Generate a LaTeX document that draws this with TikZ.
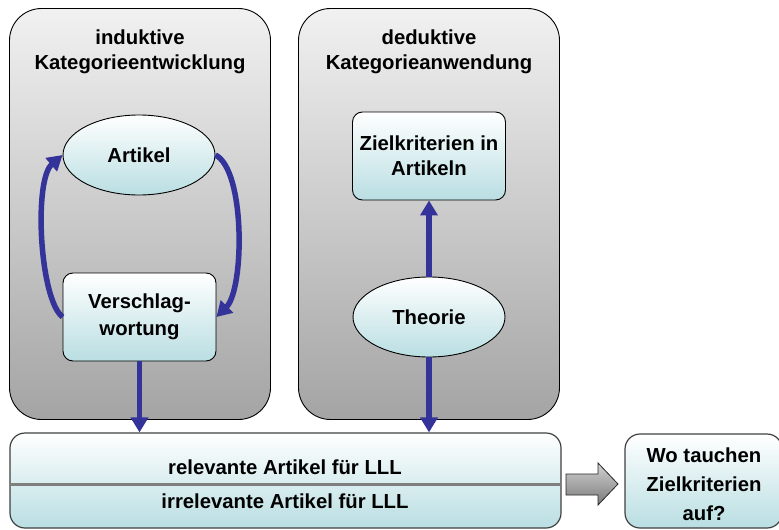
\documentclass[tikz,border=0pt]{standalone}
\usepackage{fontspec}
\setmainfont{Liberation Sans}
\usetikzlibrary{shapes.geometric,arrows.meta}

\definecolor{flowblue}{HTML}{333399}
\definecolor{paneltop}{HTML}{F1F1F1}
\definecolor{panelbot}{HTML}{A4A4A4}
\definecolor{cellbot}{HTML}{B9DEE2}
\definecolor{rulegray}{HTML}{7F7F7F}

\tikzset{
  lbl/.style={font=\bfseries\fontsize{20.3}{25}\selectfont, align=center, inner sep=0pt},
  panel/.style={draw=black, line width=0.9pt, rounded corners=32pt,
    top color=paneltop, bottom color=panelbot,
    minimum width=261pt, minimum height=411pt, inner sep=0pt},
  cellbox/.style={draw=black, line width=0.9pt, rounded corners=10pt,
    top color=white, bottom color=cellbot,
    minimum width=153pt, minimum height=88pt, inner sep=0pt, lbl},
  cellellipse/.style={ellipse, draw=black, line width=0.9pt,
    top color=white, bottom color=cellbot,
    minimum width=152pt, minimum height=80pt, inner sep=0pt, lbl},
  resultbox/.style={draw=black!75, line width=1.2pt, rounded corners=15pt,
    top color=white, bottom color=cellbot, inner sep=0pt},
  flow/.style={draw=flowblue, line width=5.5pt,
    -{Triangle[width=17pt,length=15pt]}},
  bigarrow/.style={draw=black!85, line width=0.8pt,
    top color=black!18, bottom color=black!52},
}

\begin{document}
\begin{tikzpicture}[x=1pt,y=-1pt]
\useasboundingbox (0,0) rectangle (779,530);

% two process panels
\node[panel] (ind) at (140,214) {};
\node[panel] (ded) at (429,214) {};
\node[lbl] (indtitle) at (140,52) {induktive\\Kategorieentwicklung};
\node[lbl] (dedtitle) at (429,52) {deduktive\\Kategorieanwendung};

% inductive loop
\node[cellellipse] (artikel) at (139,155) {Artikel};
\node[cellbox] (verschl) at (139.5,317) {Verschlag-\\[2pt]wortung};

% deductive chain
\node[cellbox] (ziel) at (429,156) {Zielkriterien in\\Artikeln};
\node[cellellipse] (theorie) at (429,317) {Theorie};

% result boxes
\node[resultbox, minimum width=551pt, minimum height=95pt] (result) at (285.5,480.5) {};
\node[resultbox, minimum width=157pt, minimum height=94pt] (frage) at (703.5,481) {};
\draw[rulegray, line width=3pt] (result.west |- 0,484) coordinate (rulel)
  -- (result.east |- 0,484) coordinate (ruler);
\node[lbl] (rel) at (285,467) {relevante Artikel für LLL};
\node[lbl] (irrel) at (285,501) {irrelevante Artikel für LLL};
\node[lbl, font=\bfseries\fontsize{20.3}{29}\selectfont] (fragetext) at (704,484)
  {Wo tauchen\\Zielkriterien\\auf?};

% connectors
\draw[flow] (verschl.west) .. controls +(-23,-18) and +(-29,25) .. (artikel.west);
\draw[flow] (artikel.east) .. controls +(30,15) and +(28,-28) .. (verschl.east);
\draw[flow] (verschl.south) -- (verschl.south |- result.north);
\draw[flow] (theorie.north) -- (ziel.south);
\draw[flow] (theorie.south) -- (theorie.south |- result.north);

% block arrow towards the question
\draw[bigarrow] (566,474) -- (598,474) -- (598,463) -- (618,484)
  -- (598,505) -- (598,495) -- (566,495) -- cycle;
\end{tikzpicture}
\end{document}
